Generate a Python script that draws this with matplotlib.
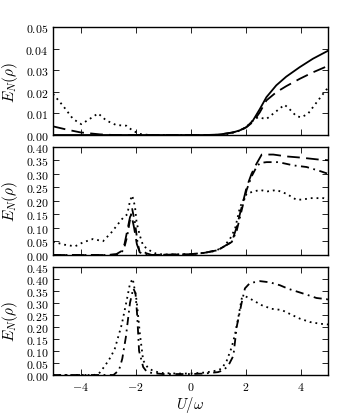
import numpy as np
import matplotlib
matplotlib.use("Agg")
import matplotlib.pyplot as plt
from matplotlib.ticker import FuncFormatter, MultipleLocator

plt.rcParams['mathtext.fontset'] = 'cm'
plt.rcParams['font.family'] = 'DejaVu Serif'

# ---- Panel 1 data ----
p1_solid_x = [-5, 0.5, 0.9, 1.2, 1.55, 1.8, 2.03, 2.27, 2.52, 2.76, 3.12, 3.48, 3.97, 4.45, 5.0]
p1_solid_y = [0, 0, 0.0001, 0.0005, 0.0012, 0.0022, 0.0036, 0.0067, 0.012, 0.0175, 0.023, 0.027, 0.0314, 0.0353, 0.039]
p1_dash_x = [-5, -4.5, -4, -3.3, -2.8, 0.5, 0.9, 1.2, 1.55, 1.8, 2.03, 2.27, 2.52, 2.76, 3.12, 3.48, 3.97, 4.45, 5.0]
p1_dash_y = [0.004, 0.0025, 0.0012, 0.0003, 0, 0, 0.0001, 0.0005, 0.0012, 0.0022, 0.0036, 0.006, 0.0105, 0.016, 0.0198, 0.0226, 0.026, 0.029, 0.032]
p1_dot_x = [-5, -4.64, -4.27, -3.97, -3.67, -3.36, -3.06, -2.7, -2.33, -2.1, -1.85, -1.5, 1.2, 1.5, 1.8, 2.03, 2.2, 2.45, 2.76, 3.12, 3.42, 3.6, 3.85, 4.03, 4.27, 4.58, 4.94, 5]
p1_dot_y = [0.019, 0.0136, 0.0074, 0.005, 0.0074, 0.010, 0.0067, 0.0046, 0.0043, 0.002, 0.0005, 0, 0, 0.001, 0.002, 0.0036, 0.006, 0.0082, 0.0074, 0.011, 0.014, 0.012, 0.0087, 0.0082, 0.0098, 0.015, 0.021, 0.0215]

# ---- Panel 2 data ----
p2_dot_x = [-5, -4.58, -4.2, -3.9, -3.55, -3.18, -2.87, -2.63, -2.44, -2.3, -2.2, -2.12, -2.02, -1.96, -1.84, -1.72, -1.47, -1.25, -1.0, 0, 0.5, 0.9, 1.2, 1.44, 1.62, 1.8, 2.04, 2.3, 2.53, 2.8, 3.13, 3.49, 3.85, 4.1, 4.35, 4.84, 5]
p2_dot_y = [0.049, 0.038, 0.032, 0.047, 0.059, 0.051, 0.084, 0.115, 0.139, 0.15, 0.2, 0.22, 0.18, 0.12, 0.071, 0.034, 0.016, 0.005, 0.002, 0.002, 0.008, 0.015, 0.03, 0.06, 0.097, 0.177, 0.226, 0.235, 0.24, 0.235, 0.24, 0.226, 0.204, 0.205, 0.21, 0.21, 0.205]
p2_dash_x = [-5, -3, -2.7, -2.5, -2.4, -2.3, -2.2, -2.15, -2.05, -1.95, -1.85, -1.75, -1.6, -1.4, 0, 0.5, 1.0, 1.19, 1.5, 1.68, 1.8, 1.92, 2.04, 2.22, 2.4, 2.59, 3.01, 3.5, 3.98, 4.71, 5]
p2_dash_y = [0, 0, 0.003, 0.015, 0.04, 0.09, 0.14, 0.15, 0.10, 0.04, 0.012, 0.015, 0.006, 0, 0.003, 0.008, 0.018, 0.03, 0.048, 0.103, 0.153, 0.2, 0.25, 0.30, 0.337, 0.371, 0.371, 0.364, 0.36, 0.352, 0.35]
p2_dd_x = [-5, -3, -2.7, -2.5, -2.4, -2.3, -2.2, -2.12, -2.02, -1.93, -1.85, -1.7, -1.5, 0, 0.5, 1.0, 1.19, 1.5, 1.68, 1.8, 1.92, 2.04, 2.22, 2.4, 2.53, 2.77, 3.2, 3.74, 4.22, 4.71, 5]
p2_dd_y = [0, 0, 0.002, 0.01, 0.03, 0.07, 0.13, 0.17, 0.12, 0.05, 0.01, 0.003, 0, 0.003, 0.008, 0.018, 0.03, 0.048, 0.09, 0.14, 0.19, 0.24, 0.29, 0.325, 0.34, 0.343, 0.343, 0.331, 0.325, 0.31, 0.30]

# ---- Panel 3 data ----
p3_dot_x = [-5, -3.5, -3.3, -3.1, -2.9, -2.75, -2.5, -2.32, -2.2, -2.1, -1.96, -1.84, -1.72, -1.55, -1.4, -1.2, -1.0, -0.5, 0, 0.5, 0.8, 1.0, 1.14, 1.32, 1.5, 1.62, 1.74, 1.86, 2.0, 2.28, 2.59, 2.95, 3.32, 3.68, 3.98, 4.35, 4.71, 5.0]
p3_dot_y = [0, 0, 0.01, 0.04, 0.075, 0.11, 0.21, 0.31, 0.38, 0.40, 0.31, 0.17, 0.06, 0.03, 0.02, 0.012, 0.008, 0.006, 0.006, 0.01, 0.015, 0.02, 0.027, 0.06, 0.116, 0.17, 0.24, 0.317, 0.327, 0.31, 0.29, 0.275, 0.27, 0.25, 0.234, 0.22, 0.213, 0.21]
p3_dd_x = [-5, -2.8, -2.6, -2.48, -2.35, -2.2, -2.08, -2.0, -1.94, -1.87, -1.72, -1.6, -1.4, -1.0, 0, 0.5, 1.0, 1.2, 1.38, 1.56, 1.68, 1.86, 1.98, 2.16, 2.53, 2.89, 3.25, 3.56, 3.92, 4.22, 4.58, 4.95, 5]
p3_dd_y = [0, 0, 0.02, 0.068, 0.158, 0.30, 0.36, 0.34, 0.25, 0.10, 0.033, 0.015, 0.008, 0.004, 0.004, 0.006, 0.012, 0.02, 0.04, 0.08, 0.2, 0.30, 0.36, 0.382, 0.39, 0.385, 0.373, 0.358, 0.345, 0.334, 0.32, 0.315, 0.313]

x_ticks = [-4, -2, 0, 2, 4]

fig = plt.figure(figsize=(3.38, 4.14), dpi=100)
L, R = 53/338, 328/338
boxes = [(28, 136), (147.7, 256), (267.7, 376)]
axes = []
for top, bot in boxes:
    ax = fig.add_axes([L, 1 - bot/414, R - L, (bot - top)/414])
    axes.append(ax)

lw = 1.3
DASH = (0, (7, 3.5))
DOT = (0, (1, 2.2))
DD = (0, (4.5, 2.5, 1, 2.5))

ax1, ax2, ax3 = axes
ax1.plot(p1_solid_x, p1_solid_y, color='k', lw=lw, linestyle='-')
ax1.plot(p1_dash_x, p1_dash_y, color='k', lw=lw, linestyle=DASH)
ax1.plot(p1_dot_x, p1_dot_y, color='k', lw=lw, linestyle=DOT)

ax2.plot(p2_dot_x, p2_dot_y, color='k', lw=lw, linestyle=DOT)
ax2.plot(p2_dash_x, p2_dash_y, color='k', lw=lw, linestyle=DASH)
ax2.plot(p2_dd_x, p2_dd_y, color='k', lw=lw, linestyle=DD)

ax3.plot(p3_dot_x, p3_dot_y, color='k', lw=lw, linestyle=DOT)
ax3.plot(p3_dd_x, p3_dd_y, color='k', lw=lw, linestyle=DD)

ylims = [(0, 0.05, 0.01), (0, 0.40, 0.05), (0, 0.45, 0.05)]
for ax, (y0, y1, st) in zip(axes, ylims):
    ax.set_xlim(-5, 5)
    ax.set_ylim(y0, y1)
    ax.set_xticks(x_ticks)
    ax.yaxis.set_major_locator(MultipleLocator(st))
    ax.tick_params(direction='in', top=True, right=True, length=4, width=0.6, labelsize=8.5)
    ax.yaxis.set_major_formatter(FuncFormatter(lambda v, p: r'$%.2f$' % v))
    ax.xaxis.set_major_formatter(FuncFormatter(lambda v, p: r'$%d$' % round(v)))
    for s in ax.spines.values():
        s.set_linewidth(1.0)
    ax.set_ylabel(r'$E_N(\rho)$', fontsize=11, labelpad=4)
    if ax is not ax3:
        ax.tick_params(labelbottom=False)

ax3.set_xlabel(r'$U/\omega$', fontsize=10.5, labelpad=0.5)

fig.savefig('out.png', dpi=100)
